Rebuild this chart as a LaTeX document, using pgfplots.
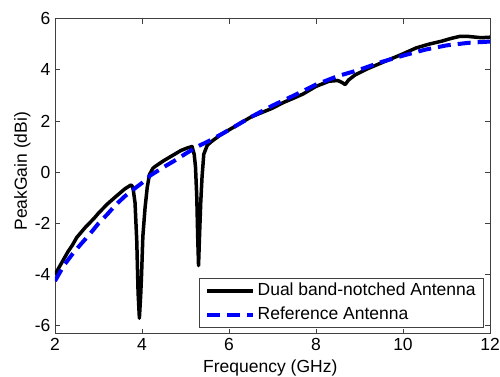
\documentclass[border=0pt]{standalone}
\usepackage{fontspec}
\setmainfont{Liberation Sans}
\usepackage{pgfplots}
\pgfplotsset{compat=1.18}
\begin{document}
\begin{tikzpicture}[font=\fontsize{17.5bp}{21bp}\selectfont]
\useasboundingbox (-55bp,-43bp) rectangle (445bp,333.5bp);
\begin{axis}[at={(0,0)}, anchor=south west, scale only axis,
  width=435bp, height=315bp,
  xmin=2, xmax=12, ymin=-6.3, ymax=6,
  xtick={2,4,...,12}, ytick={-6,-4,...,6},
  tick align=inside, major tick length=5bp,
  axis line style={black!75, line width=0.8bp},
  every tick/.style={black!75, line width=0.8bp},
  /pgf/number format/assume math mode=true,
  xlabel={Frequency (GHz)}, ylabel={PeakGain (dBi)},
  xlabel style={at={(axis description cs:0.495,0)}, anchor=base, yshift=-38.5bp},
  ylabel style={at={(axis description cs:0,0.515)}, anchor=base, yshift=28bp},
  xticklabel style={yshift=-1bp},
  yticklabel style={xshift=-1bp},
  legend style={at={(axis description cs:1,0)}, anchor=south east, xshift=-6bp, yshift=6bp,
    draw=black!75, line width=0.8bp, inner xsep=5bp, inner ysep=2bp, row sep=2.4bp,
    nodes={inner xsep=3bp, inner ysep=2bp, text height=13bp, text depth=4bp},
    font=\fontsize{17.5bp}{21bp}\selectfont, cells={anchor=west}},
  legend image code/.code={\draw[#1] (0bp,0bp) -- (46bp,0bp);},
]
\addplot[black, line width=3.5bp, line join=round] coordinates {
(2.0,-4.0) (2.1,-3.7) (2.2,-3.4) (2.3,-3.1) (2.4,-2.85) (2.5,-2.55) (2.6,-2.35)
(2.7,-2.15) (2.9,-1.8) (3.0,-1.6) (3.2,-1.25) (3.4,-0.95) (3.6,-0.66) (3.7,-0.55)
(3.75,-0.5) (3.78,-0.56) (3.80,-0.7) (3.84,-1.2) (3.88,-2.7) (3.91,-4.7) (3.94,-5.7)
(3.97,-4.8) (3.99,-4.0) (4.02,-2.5) (4.07,-1.4) (4.12,-0.6) (4.17,-0.1) (4.25,0.15)
(4.3,0.22) (4.5,0.45) (4.7,0.65) (4.9,0.85) (5.05,0.95) (5.15,1.0) (5.2,0.7)
(5.23,0.2) (5.26,-1.0) (5.28,-2.5) (5.30,-3.65) (5.32,-2.6) (5.35,-1.2) (5.38,-0.2)
(5.42,0.7) (5.5,1.05) (5.6,1.2) (5.8,1.45) (6.0,1.65) (6.2,1.85) (6.5,2.15)
(7.0,2.5) (7.25,2.72) (7.5,2.9) (7.7,3.05) (8.0,3.35) (8.3,3.55) (8.5,3.58)
(8.6,3.5) (8.67,3.42) (8.75,3.6) (8.9,3.8) (9.2,4.05) (9.55,4.3) (10.0,4.62)
(10.3,4.85) (10.6,5.0) (10.9,5.12) (11.1,5.22) (11.3,5.3) (11.5,5.3) (11.8,5.25) (12.0,5.27)
};
\addlegendentry{Dual band-notched Antenna}
\addplot[blue, line width=4bp, dash pattern=on 13bp off 7bp] coordinates {
(2.0,-4.25) (2.2,-3.65) (2.4,-3.2) (2.6,-2.8) (2.8,-2.42) (3.0,-2.0) (3.2,-1.65)
(3.4,-1.27) (3.6,-0.95) (3.8,-0.68) (4.0,-0.42) (4.2,-0.12) (4.5,0.2) (4.8,0.5)
(5.0,0.72) (5.3,1.02) (5.6,1.27) (6.0,1.65) (6.5,2.15) (7.0,2.6) (7.5,3.0)
(8.0,3.42) (8.5,3.75) (9.0,4.0) (9.5,4.3) (10.0,4.55) (10.5,4.78) (11.0,4.95)
(11.5,5.05) (12.0,5.1)
};
\addlegendentry{Reference Antenna}
\end{axis}
\end{tikzpicture}
\end{document}
